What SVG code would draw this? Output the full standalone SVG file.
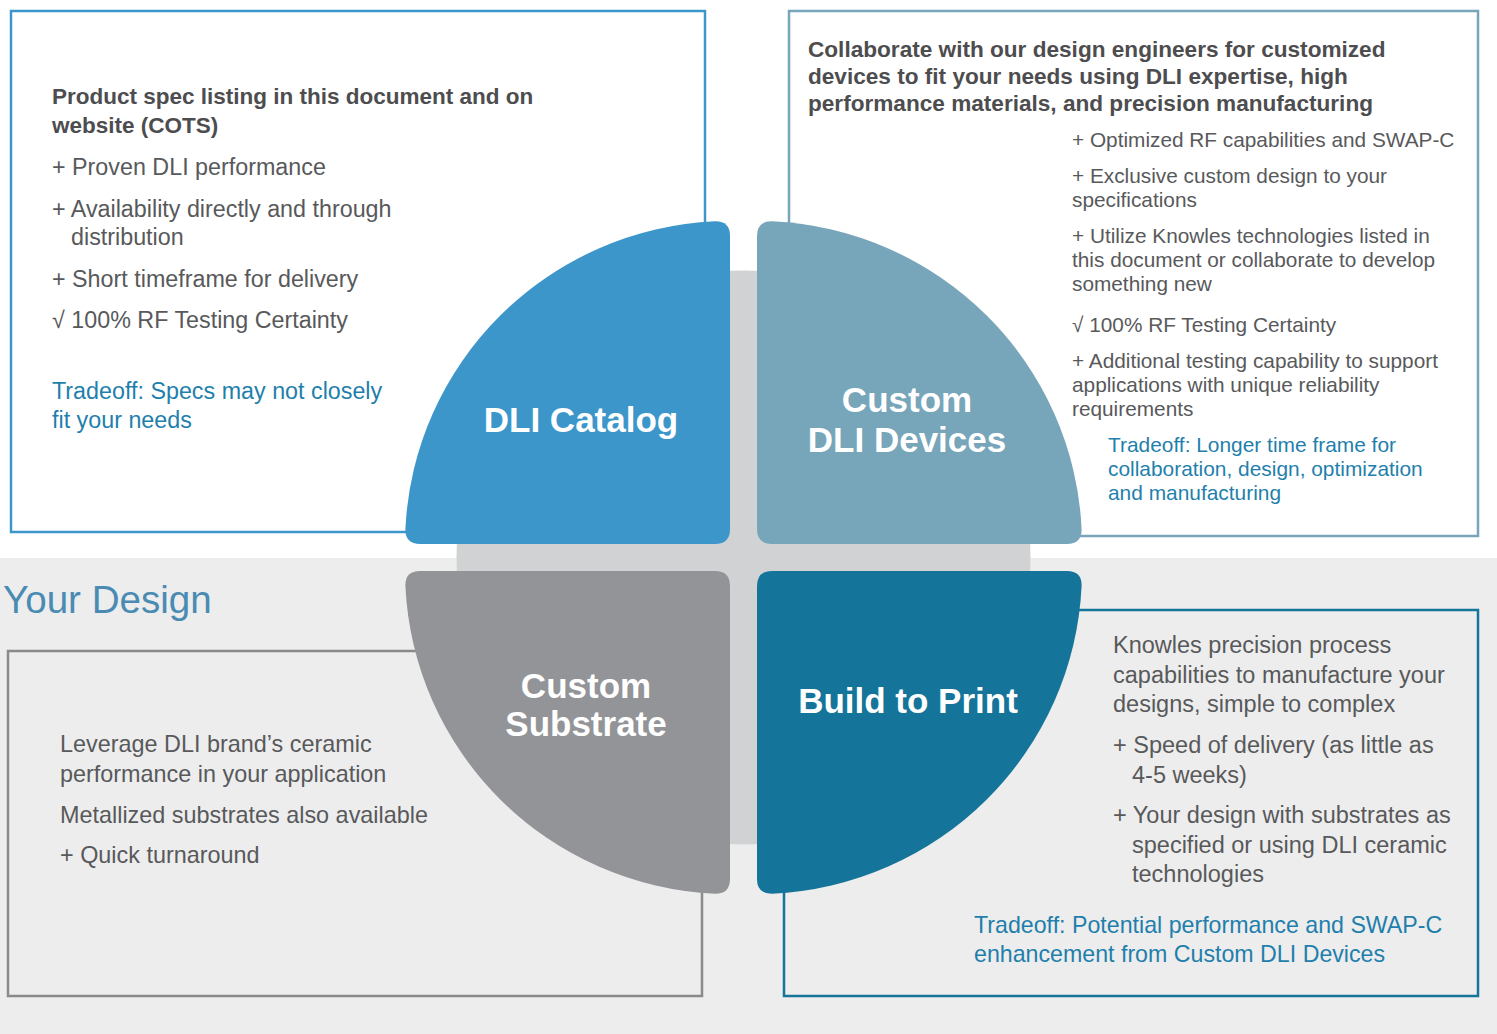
<svg xmlns="http://www.w3.org/2000/svg" width="1497" height="1034" viewBox="0 0 1497 1034">
<style>
text{font-family:"Liberation Sans",Arial,sans-serif;}
.head{font-weight:bold;font-size:22.5px;fill:#4d4d4f;}
.body{font-size:23.3px;fill:#58595b;}
.bodys{font-size:20.8px;fill:#58595b;}
.trade{font-size:23.2px;fill:#1f7fac;}
.trades{font-size:20.9px;fill:#1f7fac;}
.label{font-weight:bold;font-size:35px;fill:#ffffff;text-anchor:middle;}
.box{stroke-width:2.5;}
</style>
<rect x="0" y="0" width="1497" height="1034" fill="#ffffff"/>
<rect x="0" y="558" width="1497" height="476" fill="#ededed"/>
<text x="3" y="613" style="font-size:38.6px;fill:#4a8bb3;">Your Design</text>
<circle cx="743.5" cy="557.5" r="287" fill="#d1d2d4"/>
<g id="connectors"/>

<g id="dli-catalog">
<rect class="box" x="11" y="11" width="694" height="521" fill="#ffffff" stroke="#3d96ca"/>
<path d="M730,236 L730,529 Q730,544 715,544 L420,544 Q405,544 405.4,529 A325 323 0 0 1 715,221.3 Q730,221 730,236 Z" fill="#3d96ca"/>
<text class="label" x="581" y="432">DLI Catalog</text>
<text class="head" x="52" y="104">Product spec listing in this document and on</text>
<text class="head" x="52" y="133">website (COTS)</text>
<text class="body" x="52" y="175">+ Proven DLI performance</text>
<text class="body" x="52" y="217">+ Availability directly and through</text>
<text class="body" x="71" y="245">distribution</text>
<text class="body" x="52" y="287">+ Short timeframe for delivery</text>
<text class="body" x="52" y="328">√ 100% RF Testing Certainty</text>
<text class="trade" x="52" y="399" style="font-size:23.3px">Tradeoff: Specs may not closely</text>
<text class="trade" x="52" y="428" style="font-size:23.3px">fit your needs</text>
</g>

<g id="custom-dli-devices">
<rect class="box" x="789" y="11" width="689" height="525" fill="#ffffff" stroke="#77a5ba"/>
<path d="M757,236 Q757,221 772,221.3 A325 323 0 0 1 1081.6,529 Q1082,544 1067,544 L772,544 Q757,544 757,529 Z" fill="#77a5ba"/>
<text class="label" x="907" y="412">Custom</text>
<text class="label" x="907" y="452">DLI Devices</text>
<text class="head" x="808" y="57" style="font-size:22.6px">Collaborate with our design engineers for customized</text>
<text class="head" x="808" y="84" style="font-size:22.6px">devices to fit your needs using DLI expertise, high</text>
<text class="head" x="808" y="111" style="font-size:22.6px">performance materials, and precision manufacturing</text>
<text class="bodys" x="1072" y="147">+ Optimized RF capabilities and SWAP-C</text>
<text class="bodys" x="1072" y="183">+ Exclusive custom design to your</text>
<text class="bodys" x="1072" y="207">specifications</text>
<text class="bodys" x="1072" y="243">+ Utilize Knowles technologies listed in</text>
<text class="bodys" x="1072" y="267">this document or collaborate to develop</text>
<text class="bodys" x="1072" y="291">something new</text>
<text class="bodys" x="1072" y="332">√ 100% RF Testing Certainty</text>
<text class="bodys" x="1072" y="368">+ Additional testing capability to support</text>
<text class="bodys" x="1072" y="392">applications with unique reliability</text>
<text class="bodys" x="1072" y="416">requirements</text>
<text class="trades" x="1108" y="452">Tradeoff: Longer time frame for</text>
<text class="trades" x="1108" y="476">collaboration, design, optimization</text>
<text class="trades" x="1108" y="500">and manufacturing</text>
</g>

<g id="custom-substrate">
<rect class="box" x="8" y="651" width="694" height="345" fill="none" stroke="#8a8a8c"/>
<path d="M420,571 L715,571 Q730,571 730,586 L730,879 Q730,894 715,893.7 A325 323 0 0 1 405.4,586 Q405,571 420,571 Z" fill="#939497"/>
<text class="label" x="586" y="698">Custom</text>
<text class="label" x="586" y="736">Substrate</text>
<text class="body" x="60" y="752" style="font-size:23.4px">Leverage DLI brand’s ceramic</text>
<text class="body" x="60" y="782" style="font-size:23.4px">performance in your application</text>
<text class="body" x="60" y="823" style="font-size:23.4px">Metallized substrates also available</text>
<text class="body" x="60" y="863" style="font-size:23.4px">+ Quick turnaround</text>
</g>

<g id="build-to-print">
<rect class="box" x="784" y="610" width="694" height="386" fill="none" stroke="#147499"/>
<path d="M772,571 L1067,571 Q1082,571 1081.6,586 A325 323 0 0 1 772,893.7 Q757,894 757,879 L757,586 Q757,571 772,571 Z" fill="#147499"/>
<text class="label" x="908" y="713">Build to Print</text>
<text class="body" x="1113" y="653" style="font-size:23.5px">Knowles precision process</text>
<text class="body" x="1113" y="683" style="font-size:23.5px">capabilities to manufacture your</text>
<text class="body" x="1113" y="712" style="font-size:23.5px">designs, simple to complex</text>
<text class="body" x="1113" y="753" style="font-size:23.5px">+ Speed of delivery (as little as</text>
<text class="body" x="1132" y="783" style="font-size:23.5px">4-5 weeks)</text>
<text class="body" x="1113" y="823" style="font-size:23.5px">+ Your design with substrates as</text>
<text class="body" x="1132" y="853" style="font-size:23.5px">specified or using DLI ceramic</text>
<text class="body" x="1132" y="882" style="font-size:23.5px">technologies</text>
<text class="trade" x="974" y="933">Tradeoff: Potential performance and SWAP-C</text>
<text class="trade" x="974" y="962">enhancement from Custom DLI Devices</text>
</g>
</svg>
